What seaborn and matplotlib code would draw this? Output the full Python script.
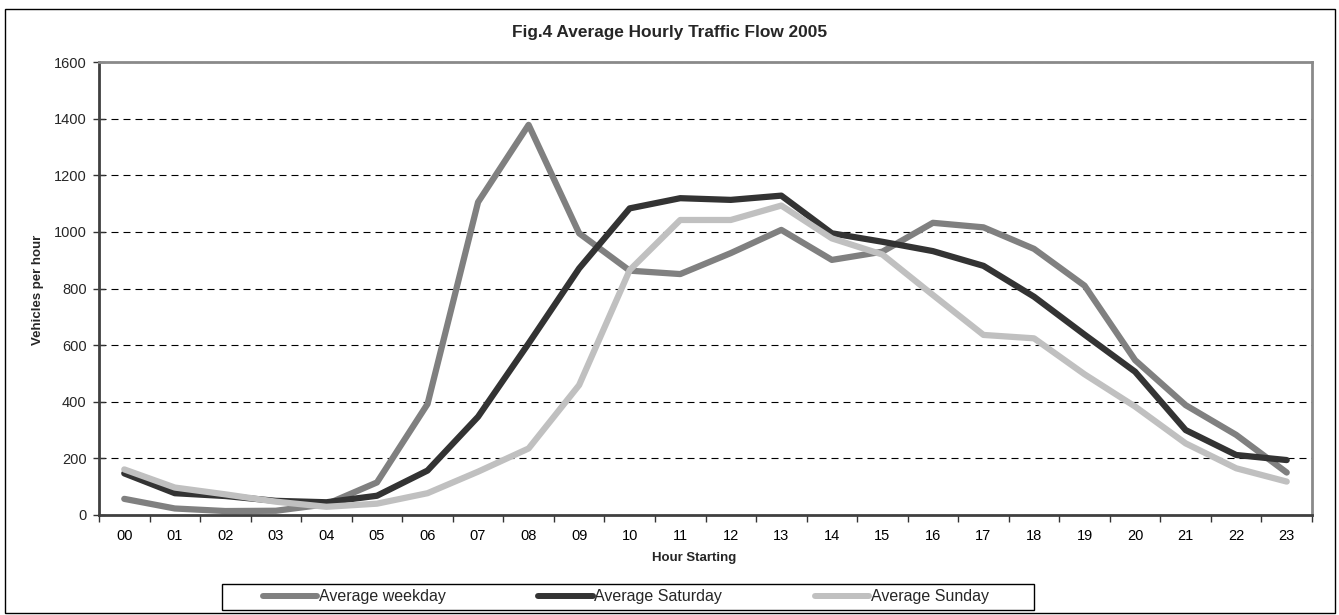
import matplotlib
matplotlib.use("Agg")
import matplotlib.pyplot as plt
import seaborn as sns
import pandas as pd
from matplotlib.patches import Rectangle
from matplotlib.ticker import FixedLocator

# Datos
horas = ["00", "01", "02", "03", "04", "05", "06", "07", "08", "09", "10", "11",
         "12", "13", "14", "15", "16", "17", "18", "19", "20", "21", "22", "23"]
weekday = [57, 23, 14, 15, 38, 115, 392, 1105, 1378, 995, 863, 851,
           925, 1007, 901, 930, 1032, 1016, 940, 810, 547, 388, 283, 150]
saturday = [147, 77, 67, 50, 45, 68, 157, 347, 606, 871, 1083, 1119,
            1113, 1128, 995, 965, 932, 880, 771, 637, 506, 300, 212, 194]
sunday = [161, 97, 73, 47, 29, 40, 77, 153, 235, 459, 865, 1042,
          1042, 1093, 977, 920, 777, 636, 624, 497, 383, 253, 165, 118]

series = ["Average weekday", "Average Saturday", "Average Sunday"]
colores = ["#808080", "#333333", "#c0c0c0"]

df = pd.DataFrame({
    "pos": list(range(len(horas))) * 3,
    "valor": weekday + saturday + sunday,
    "serie": [series[0]] * 24 + [series[1]] * 24 + [series[2]] * 24,
})

sns.set_theme(style="white")
plt.rcParams["font.family"] = ["Liberation Sans", "DejaVu Sans"]

W, H = 1339, 615
fig = plt.figure(figsize=(W / 100, H / 100), dpi=100)
ax = fig.add_axes([99 / W, 1 - 515 / H, (1312 - 99) / W, (515 - 62) / H])

sns.lineplot(data=df, x="pos", y="valor", hue="serie", palette=colores,
             linewidth=4.5, ax=ax, legend=False, solid_capstyle="round")

ax.set_xlim(-0.5, 23.5)
ax.set_ylim(0, 1600)
ax.set_yticks(range(0, 1601, 200))
ax.set_xticks(range(24))
ax.set_xticklabels(horas)
ax.xaxis.set_minor_locator(FixedLocator([i - 0.5 for i in range(25)]))
ax.tick_params(axis="x", which="major", length=0, pad=10, labelsize=10.5, colors="black")
ax.tick_params(axis="x", which="minor", bottom=True, length=5, width=1, color="#333333", direction="out")
ax.tick_params(axis="y", left=True, length=8, width=1, direction="inout", color="#333333",
               labelsize=10.5, pad=5)

ax.yaxis.grid(True, linestyle=(0, (6.3, 4.5)), color="black", linewidth=0.8)
ax.set_axisbelow(True)

for lado in ["left", "bottom"]:
    ax.spines[lado].set_color("#404040")
    ax.spines[lado].set_linewidth(2)
for lado in ["top", "right"]:
    ax.spines[lado].set_color("#8a8a8a")
    ax.spines[lado].set_linewidth(2)

ax.set_xlabel("")
ax.set_ylabel("")
fig.text(694 / W, 1 - 558 / H, "Hour Starting", ha="center", va="center",
         fontsize=9.5, fontweight="bold")
fig.text(38 / W, 1 - 290 / H, "Vehicles per hour", ha="center", va="center",
         rotation=90, fontsize=9.5, fontweight="bold")
fig.text(0.5, 1 - 33 / H, "Fig.4 Average Hourly Traffic Flow 2005", ha="center", va="center",
         fontsize=12.4, fontweight="bold")

# Leyenda (sin marco; el marco se dibuja aparte)
handles = [plt.Line2D([], [], color=c, linewidth=4.3, solid_capstyle="round") for c in colores]
leg = fig.legend(handles, series, loc="center left", bbox_to_anchor=(263 / W, 1 - 597 / H),
                 ncol=3, frameon=False, fontsize=11.5, handlelength=3.4, handletextpad=0.1,
                 columnspacing=5.8, borderpad=0, borderaxespad=0)
fig.patches.append(Rectangle((222 / W, 1 - 610 / H), (1034 - 222) / W, 26 / H,
                             transform=fig.transFigure, fill=False, edgecolor="black", linewidth=1))

# Marco exterior
fig.patches.append(Rectangle((5 / W, 1 - 613 / H), 1330 / W, 604 / H, transform=fig.transFigure,
                             fill=False, edgecolor="black", linewidth=1))

fig.savefig("out.png", dpi=100)
